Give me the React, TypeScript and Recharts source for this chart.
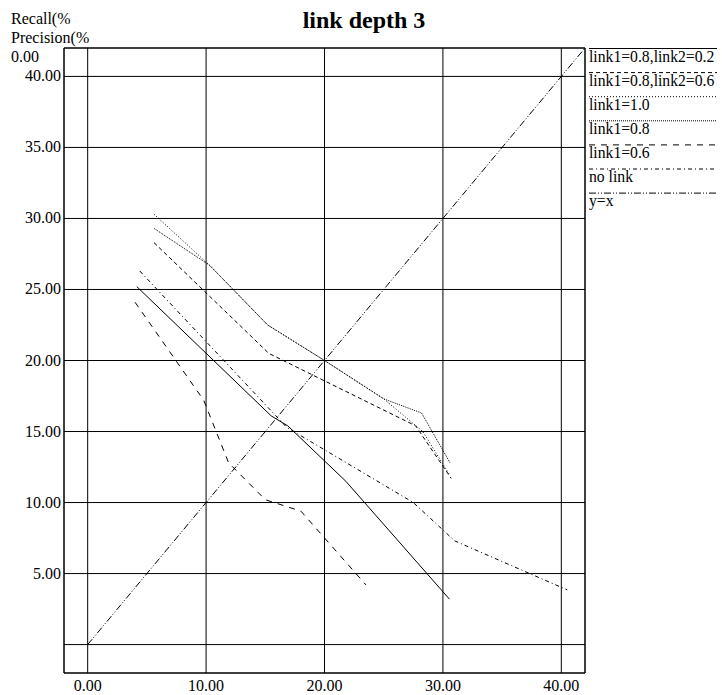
import React from 'react';
import { LineChart, Line, XAxis, YAxis, CartesianGrid, ReferenceArea } from 'recharts';

// recall (x) / precision (y)
const recallL08L02 = [4.15, 15.5, 16.9, 21.8, 30.55];
const precL08L02 = [25.2, 16.1, 15.4, 11.5, 3.2];

const recallL08L06 = [5.6, 15.3, 27.7, 30.7];
const precL08L06 = [28.3, 20.5, 15.4, 11.7];

const recallL10 = [5.6, 10.3, 15.2, 20.0, 25.0, 28.3, 30.6];
const precL10 = [30.3, 26.7, 22.5, 20.0, 17.3, 15.0, 11.9];

const recallL08 = [5.6, 10.3, 15.2, 20.0, 25.0, 28.2, 30.6];
const precL08 = [29.3, 26.7, 22.5, 20.0, 17.3, 16.3, 12.8];

const recallL06 = [4.0, 9.8, 11.9, 15.0, 18.0, 23.5];
const precL06 = [24.1, 17.2, 12.8, 10.2, 9.4, 4.2];

const recallNoLink = [4.4, 16.8, 27.5, 31.0, 40.5];
const precNoLink = [26.3, 15.3, 10.0, 7.3, 3.85];

const recallYX = [0, 42];
const precYX = [0, 42];

const xTicks = [0, 10, 20, 30, 40];
const yTicks = [0, 5, 10, 15, 20, 25, 30, 35, 40];
const axisMin = -2;
const axisMax = 42;

const names = ['link1=0.8,link2=0.2', 'link1=0.8,link2=0.6', 'link1=1.0', 'link1=0.8', 'link1=0.6', 'no link', 'y=x'];
const dashes = [undefined, '4 3', '1 2', '1 1', '6 6', '4 3 1 3', '7 2 1 2 1 2'];

const toPoints = (xs: number[], ys: number[]) => xs.map((x, i) => ({ x, y: ys[i] }));

const series = [
  toPoints(recallL08L02, precL08L02),
  toPoints(recallL08L06, precL08L06),
  toPoints(recallL10, precL10),
  toPoints(recallL08, precL08),
  toPoints(recallL06, precL06),
  toPoints(recallNoLink, precNoLink),
  toPoints(recallYX, precYX),
];

const FONT = '"Liberation Serif", "Times New Roman", serif';

const XTick = (props: any) => {
  const { x, y, payload } = props;
  return (
    <text x={x} y={y} dy={18} textAnchor="middle" fontFamily={FONT} fontSize={16} fill="#000">
      {payload.value.toFixed(2)}
    </text>
  );
};

const YTick = (props: any) => {
  const { x, y, payload } = props;
  if (payload.value === 0) return <g />;
  return (
    <text x={x - 3} y={y} dy={5} textAnchor="end" fontFamily={FONT} fontSize={16} fill="#000">
      {payload.value.toFixed(2)}
    </text>
  );
};

export default function App() {
  return (
    <div style={{ position: 'relative', width: 722, height: 695 }}>
      <style>{`body{margin:0}`}</style>
      <LineChart width={722} height={695} margin={{ top: 48, right: 137, bottom: 0, left: 0 }}>
        <CartesianGrid stroke="#000" strokeWidth={1} />
        <XAxis
          type="number"
          dataKey="x"
          domain={[axisMin, axisMax]}
          ticks={xTicks}
          allowDataOverflow
          axisLine={false}
          tickLine={false}
          tickSize={0}
          tickMargin={0}
          height={22}
          tick={XTick}
        />
        <YAxis
          type="number"
          dataKey="y"
          domain={[axisMin, axisMax]}
          ticks={yTicks}
          allowDataOverflow
          axisLine={false}
          tickLine={false}
          tickSize={0}
          tickMargin={0}
          width={64}
          tick={YTick}
        />
        <ReferenceArea x1={axisMin} x2={axisMax} y1={axisMin} y2={axisMax} fill="none" stroke="#000" strokeWidth={1} />
        {series.map((d, i) => (
          <Line
            key={names[i]}
            data={d}
            dataKey="y"
            type="linear"
            stroke="#000"
            strokeWidth={1}
            strokeDasharray={dashes[i]}
            dot={false}
            activeDot={false}
            isAnimationActive={false}
          />
        ))}
      </LineChart>
      <svg width={722} height={695} style={{ position: 'absolute', left: 0, top: 0, pointerEvents: 'none' }}>
        <text x={364} y={28} textAnchor="middle" fontFamily={FONT} fontSize={24} fontWeight="bold">link depth 3</text>
        <text x={11} y={24} fontFamily={FONT} fontSize={16}>Recall(%</text>
        <text x={11} y={43} fontFamily={FONT} fontSize={16}>Precision(%</text>
        <text x={11} y={62} fontFamily={FONT} fontSize={16}>0.00</text>
        {names.map((n, i) => {
          const ly = 48.5 + i * 24.1;
          return (
            <g key={n}>
              <line x1={589} x2={717} y1={ly} y2={ly} stroke="#000" strokeWidth={1} strokeDasharray={dashes[i]} />
              <text x={589} y={ly + 13} fontFamily={FONT} fontSize={15.7}>{n}</text>
            </g>
          );
        })}
      </svg>
    </div>
  );
}
